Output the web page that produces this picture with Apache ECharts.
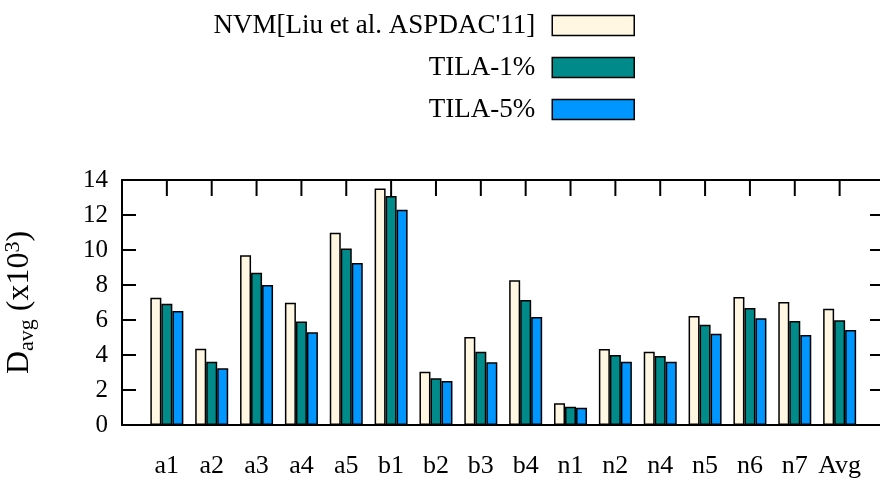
<!DOCTYPE html>
<html>
<head>
<meta charset="utf-8">
<style>
  html, body { margin: 0; padding: 0; background: #fff; }
  #main { width: 880px; height: 494px; }
</style>
</head>
<body>
<div id="main"></div>
<script src="https://cdn.jsdelivr.net/npm/echarts@6/dist/echarts.min.js"></script>
<script>
// benchmarks on the x axis
var categories = ['a1', 'a2', 'a3', 'a4', 'a5', 'b1', 'b2', 'b3', 'b4', 'n1', 'n2', 'n4', 'n5', 'n6', 'n7', 'Avg'];
var seriesNames = ["NVM[Liu et al. ASPDAC'11]", 'TILA-1%', 'TILA-5%'];
// D_avg (x10^3)
var nvm   = [7.27, 4.36, 9.70, 6.99, 10.99, 13.52, 3.05, 5.03, 8.27, 1.24, 4.34, 4.19, 6.23, 7.31, 7.03, 6.65];
var tila1 = [6.93, 3.62, 8.70, 5.92, 10.08, 13.09, 2.67, 4.19, 7.14, 1.05, 4.00, 3.94, 5.73, 6.69, 5.94, 5.98];
var tila5 = [6.51, 3.24, 8.00, 5.30, 9.26, 12.30, 2.51, 3.58, 6.17, 0.99, 3.62, 3.62, 5.22, 6.10, 5.14, 5.43];
var yTicks = [0, 2, 4, 6, 8, 10, 12, 14];

var colors = ['#fff7e1', '#008b8b', '#0096ff'];
var serif = '"Liberation Serif", "DejaVu Serif", serif';
var xMin = -1, xMax = 15.9;

function pairs(vals) {
    return vals.map(function (v, i) { return [i, v]; });
}
function frameLine(show) {
    return { show: show, onZero: false, lineStyle: { color: '#000', width: 2 } };
}

// inward frame ticks: [x, y, side] side 0=left 1=right 2=top
var tickData = [];
yTicks.forEach(function (v) {
    tickData.push([xMin, v, 0]);
    tickData.push([xMax, v, 1]);
});
categories.forEach(function (c, i) {
    tickData.push([i, yTicks[yTicks.length - 1], 2]);
});

function renderTick(params, api) {
    var p = api.coord([api.value(0), api.value(1)]);
    var side = api.value(2);
    var shape;
    if (side === 0) shape = { x1: p[0], y1: p[1], x2: p[0] + 14, y2: p[1] };
    else if (side === 1) shape = { x1: p[0], y1: p[1], x2: p[0] - 10, y2: p[1] };
    else shape = { x1: p[0], y1: p[1], x2: p[0], y2: p[1] + 16 };
    return { type: 'line', shape: shape, style: { stroke: '#000', lineWidth: 2 } };
}

var myChart = echarts.init(document.getElementById('main'));

var barSeries = [nvm, tila1, tila5].map(function (vals, k) {
    return {
        name: seriesNames[k],
        type: 'bar',
        xAxisIndex: 0,
        yAxisIndex: 0,
        barWidth: 11,
        barGap: '0%',
        data: pairs(vals),
        itemStyle: { color: colors[k], borderColor: '#000', borderWidth: 1.5 }
    };
});

var option = {
    animation: false,
    textStyle: { fontFamily: serif, color: '#000' },
    legend: {
        orient: 'vertical',
        align: 'right',
        right: 240,
        top: 7,
        icon: 'rect',
        itemWidth: 82,
        itemHeight: 20,
        itemGap: 15,
        textStyle: { fontFamily: serif, fontSize: 27, color: '#000', padding: [0, 12, 0, 0] },
        itemStyle: { borderColor: '#000', borderWidth: 1.5 },
        data: seriesNames
    },
    grid: { left: 122, right: 0, top: 180, bottom: 69, outerBoundsMode: 'none' },
    xAxis: [{
        type: 'value',
        position: 'bottom',
        min: xMin,
        max: xMax,
        interval: 1,
        splitLine: { show: false },
        axisLine: frameLine(true),
        axisTick: { show: false },
        axisLabel: {
            fontFamily: serif,
            fontSize: 26,
            color: '#000',
            margin: 28,
            showMinLabel: false,
            showMaxLabel: false,
            formatter: function (v) {
                return categories[v] !== undefined ? categories[v] : '';
            }
        }
    }, {
        type: 'value',
        position: 'top',
        min: xMin,
        max: xMax,
        interval: 1,
        splitLine: { show: false },
        axisLine: frameLine(true),
        axisTick: { show: false },
        axisLabel: { show: false }
    }],
    yAxis: [{
        type: 'value',
        position: 'left',
        min: yTicks[0],
        max: yTicks[yTicks.length - 1],
        interval: 2,
        splitLine: { show: false },
        axisLine: frameLine(true),
        axisTick: { show: false },
        axisLabel: { fontFamily: serif, fontSize: 25, color: '#000', margin: 14 },
        name: '{d|D}{sub|avg}{t| (x10}{sup|3}{t|)}',
        nameLocation: 'middle',
        nameRotate: 90,
        nameGap: 84,
        nameTextStyle: {
            rich: {
                d: { fontFamily: serif, fontSize: 32, lineHeight: 36, verticalAlign: 'middle', color: '#000' },
                t: { fontFamily: serif, fontSize: 32, lineHeight: 36, verticalAlign: 'middle', color: '#000' },
                sub: { fontFamily: serif, fontSize: 22, lineHeight: 22, verticalAlign: 'bottom', color: '#000' },
                sup: { fontFamily: serif, fontSize: 22, lineHeight: 22, verticalAlign: 'top', color: '#000' }
            }
        }
    }, {
        type: 'value',
        position: 'right',
        min: yTicks[0],
        max: yTicks[yTicks.length - 1],
        interval: 2,
        splitLine: { show: false },
        axisLine: frameLine(false),
        axisTick: { show: false },
        axisLabel: { show: false }
    }],
    series: barSeries.concat([{
        type: 'custom',
        name: 'frameTicks',
        xAxisIndex: 0,
        yAxisIndex: 0,
        silent: true,
        clip: false,
        renderItem: renderTick,
        data: tickData
    }])
};

myChart.setOption(option);
</script>
</body>
</html>
